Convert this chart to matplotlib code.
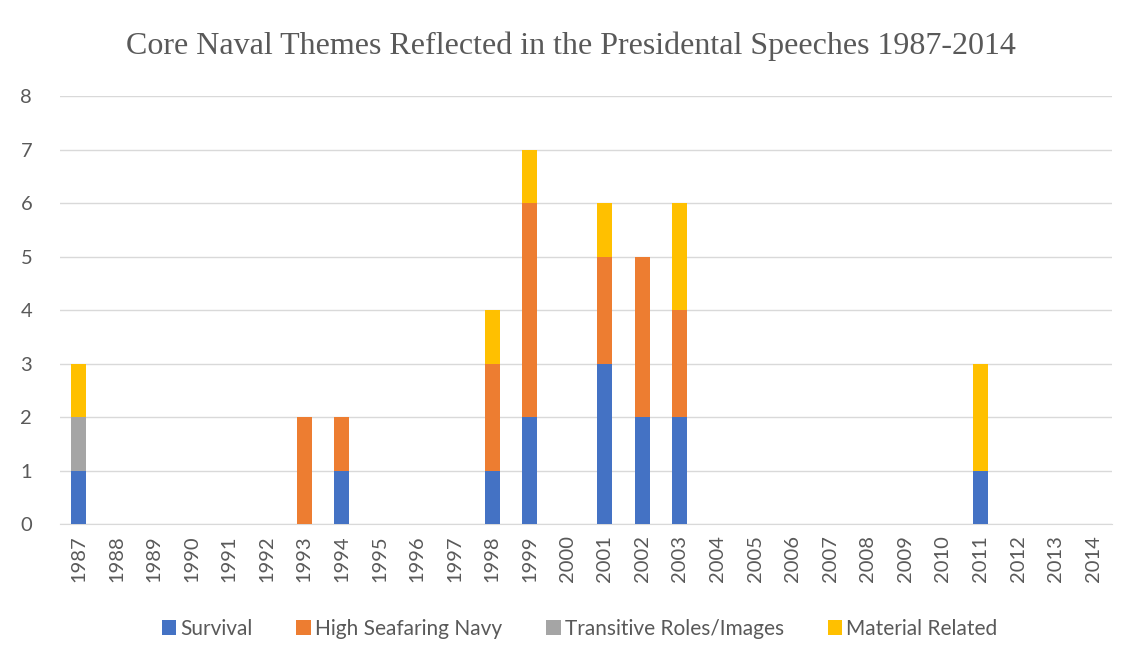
import matplotlib
matplotlib.use("Agg")
import matplotlib.pyplot as plt
import numpy as np

plt.rcParams['font.family'] = ['Lato', 'DejaVu Sans']

years = [str(y) for y in range(1987, 2015)]
survival = [1, 0, 0, 0, 0, 0, 0, 1, 0, 0, 0, 1, 2, 0, 3, 2, 2, 0, 0, 0, 0, 0, 0, 0, 1, 0, 0, 0]
high_navy = [0, 0, 0, 0, 0, 0, 2, 1, 0, 0, 0, 2, 4, 0, 2, 3, 2, 0, 0, 0, 0, 0, 0, 0, 0, 0, 0, 0]
transitive = [1, 0, 0, 0, 0, 0, 0, 0, 0, 0, 0, 0, 0, 0, 0, 0, 0, 0, 0, 0, 0, 0, 0, 0, 0, 0, 0, 0]
material = [1, 0, 0, 0, 0, 0, 0, 0, 0, 0, 0, 1, 1, 0, 1, 0, 2, 0, 0, 0, 0, 0, 0, 0, 2, 0, 0, 0]

series = [
    ("Survival", survival, "#4472C4"),
    ("High Seafaring Navy", high_navy, "#ED7D31"),
    ("Transitive Roles/Images", transitive, "#A5A5A5"),
    ("Material Related", material, "#FFC000"),
]

fig = plt.figure(figsize=(11.41, 6.64), dpi=100)
ax = fig.add_axes([0.0526, 0.2108, 0.922, 0.6446])

x = np.arange(len(years))
bottom = np.zeros(len(years))
for name, vals, col in series:
    ax.bar(x, vals, 0.4, bottom=bottom, color=col, label=name, zorder=3)
    bottom += np.array(vals)

ax.set_xlim(-0.5, len(years) - 0.5)
ax.set_ylim(0, 8)
ax.set_yticks(range(0, 9))
ax.set_xticks(x)
ax.set_xticklabels(years, rotation=90)
ax.tick_params(axis='both', length=0, labelsize=14.5, colors='#595959', pad=8)
ax.tick_params(axis='y', pad=20)
ax.grid(axis='y', color='#D9D9D9', linewidth=1, zorder=0)
for s in ['top', 'right', 'left']:
    ax.spines[s].set_visible(False)
ax.spines['bottom'].set_color('#D9D9D9')

fig.text(0.5, 0.93, "Core Naval Themes Reflected in the Presidental Speeches 1987-2014",
         ha='center', va='center', fontsize=23, color='#595959',
         family=['Liberation Serif', 'DejaVu Serif'])

fig.legend(loc='center', bbox_to_anchor=(0.508, 0.053), ncol=4, frameon=False,
           fontsize=15, handlelength=0.7, handleheight=0.7, handletextpad=0.2,
           columnspacing=2.1, labelcolor='#595959')

fig.savefig("out.png", dpi=100)
